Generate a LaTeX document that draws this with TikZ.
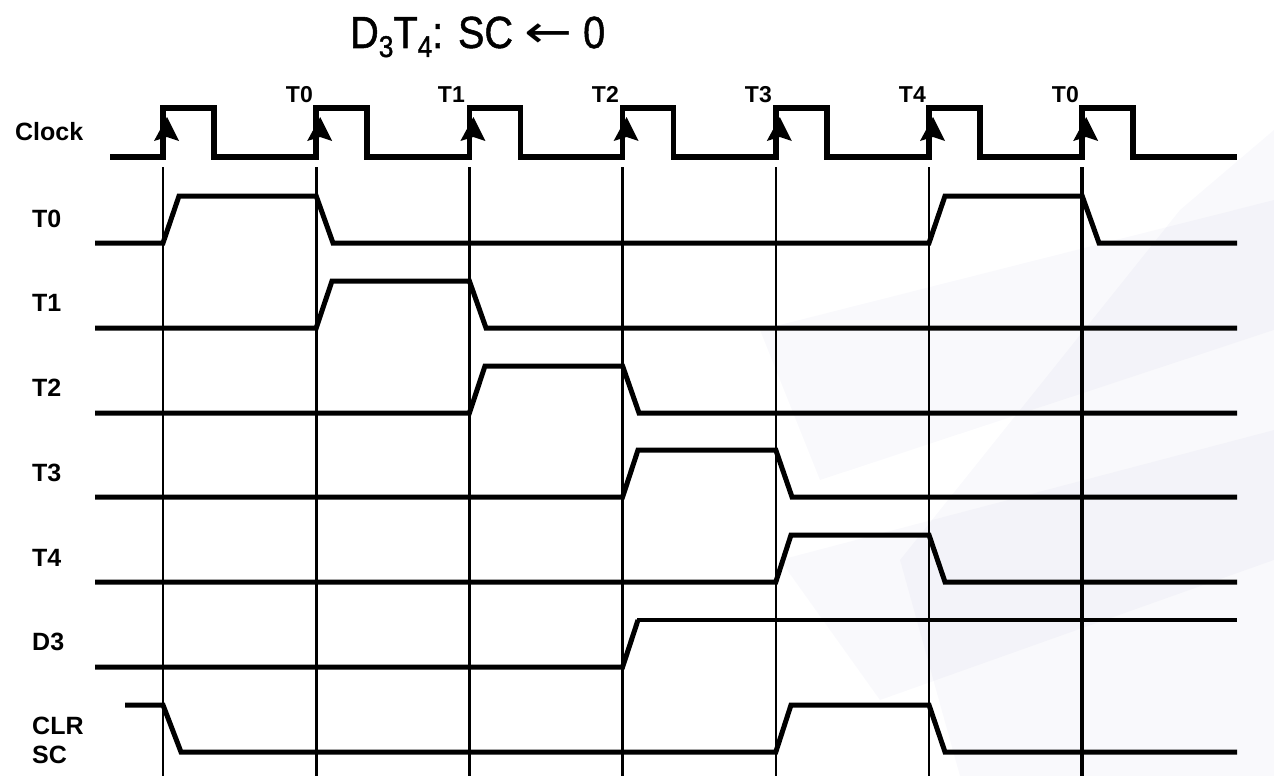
\documentclass[tikz,border=0pt]{standalone}
\usepackage{fontspec}
\setmainfont{Liberation Sans}
\newfontfamily\titlefont[FakeBold=1.2]{Liberation Sans}
\newfontfamily\arrowfont{DejaVu Sans}
\begin{document}
\begin{tikzpicture}[x=1pt,y=-1pt,
  clk/.style={line width=5.5pt},
  sig/.style={line width=5pt},
  thinsig/.style={line width=3.2pt},
  grid/.style={line width=2.6pt},
  lbl/.style={font=\fontsize{25}{28}\selectfont\bfseries, inner sep=0pt, anchor=base west},
  toplbl/.style={font=\fontsize{23}{25}\selectfont\bfseries, inner sep=0pt, anchor=base east},
  edgetip/.style={fill=black},
  wm/.style={fill=blue!30!gray, opacity=0.035, draw=none}]
\useasboundingbox (0,0) rectangle (1274,776);
% faint watermark
\fill[wm] (1274,130) -- (1180,210) -- (900,560) -- (960,776) -- (1274,776) -- cycle;
\fill[wm] (760,330) -- (1274,200) -- (1274,330) -- (820,480) -- cycle;
\fill[wm] (780,560) -- (1274,430) -- (1274,560) -- (880,700) -- cycle;
% title
\node[inner sep=0pt, anchor=base west] (title) at (350,48)
  {\scalebox{0.88}[1]{\titlefont\fontsize{45}{48}\selectfont D\raisebox{-9pt}{\fontsize{30}{30}\selectfont 3}T\raisebox{-9pt}{\fontsize{30}{30}\selectfont 4}: SC \scalebox{1.45}[1]{\arrowfont ←} 0}};
% labels
\node[lbl] (lclock) at (15,140) {Clock};
\node[lbl] (lt0) at (32,227) {T0};
\node[lbl] (lt1) at (32,311.8) {T1};
\node[lbl] (lt2) at (32,396.6) {T2};
\node[lbl] (lt3) at (32,481.4) {T3};
\node[lbl] (lt4) at (32,566.2) {T4};
\node[lbl] (ld3) at (32,650) {D3};
\node[lbl] (lclr) at (32,734) {CLR};
\node[lbl] (lsc) at (32,763) {SC};
% top labels
\node[toplbl] (k0) at (313,102) {T0};
\node[toplbl] (k1) at (465,102) {T1};
\node[toplbl] (k2) at (619,102) {T2};
\node[toplbl] (k3) at (772,102) {T3};
\node[toplbl] (k4) at (926,102) {T4};
\node[toplbl] (k5) at (1079,102) {T0};
% vertical lines
\foreach \e in {163,316.2,469.4,622.6,775.8,929} \draw[grid] (\e,167) -- (\e,776);
\draw[line width=3.5pt] (1082.2,167) -- (1082.2,776);
% clock
\draw[clk] (110,157)
  \foreach \e in {163,316.2,469.4,622.6,775.8,929,1082.2} { -- (\e,157) -- (\e,108) -- (\e+51,108) -- (\e+51,157) }
  -- (1237,157);
\foreach \e in {163,316.2,469.4,622.6,775.8,929,1082.2}
  \fill[edgetip] (\e+4,117) -- (\e+16,141) -- (\e+4,137) -- (\e-9,141) -- cycle;
% T0
\draw[sig] (95,243) -- (163,243) -- (179,196) -- (316.2,196) -- (333,243) -- (929,243) -- (945,196) -- (1082.2,196) -- (1099,243) -- (1237,243);
% T1
\draw[sig] (95,328) -- (316.2,328) -- (332,281) -- (469.4,281) -- (486,328) -- (1237,328);
% T2
\draw[sig] (95,413) -- (469.4,413) -- (485,366) -- (622.6,366) -- (639,413) -- (1237,413);
% T3
\draw[sig] (95,497) -- (622.6,497) -- (638,450) -- (775.8,450) -- (792,497) -- (1237,497);
% T4
\draw[sig] (95,582) -- (775.8,582) -- (791,535) -- (929,535) -- (945,582) -- (1237,582);
% D3
\draw[sig] (95,667) -- (622.6,667) -- (638,620);
\draw[thinsig] (637,620) -- (1237,620);
% CLR SC
\draw[sig] (125,705) -- (163,705) -- (181,752) -- (775.8,752) -- (791,705) -- (929,705) -- (945,752) -- (1237,752);
\end{tikzpicture}
\end{document}
